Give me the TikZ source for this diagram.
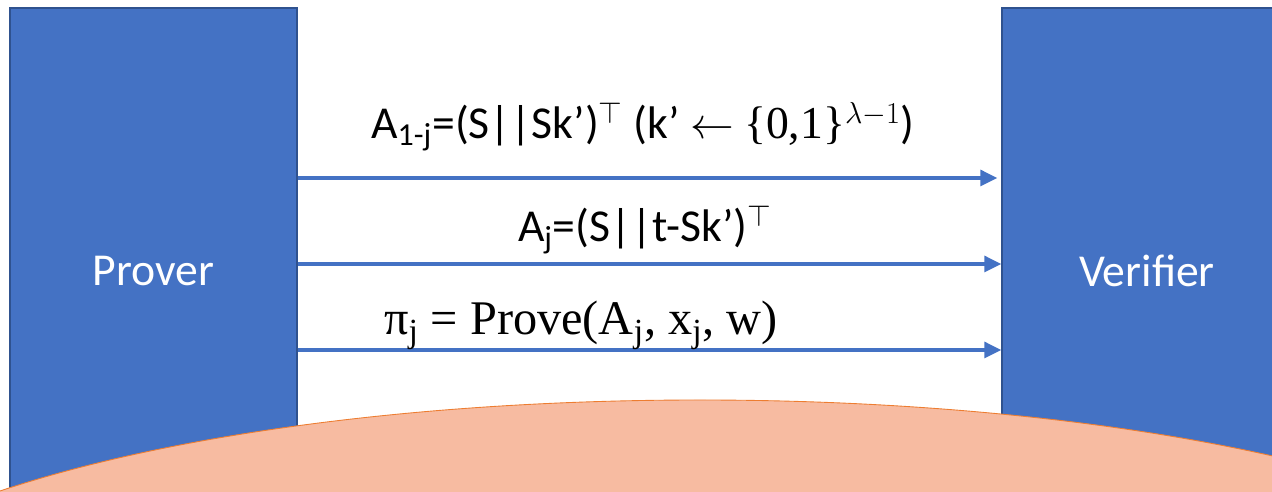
\documentclass[tikz,border=0pt]{standalone}
\usepackage[no-math]{fontspec}
\setmainfont{Carlito}
\newfontfamily\mathlike{Liberation Serif}
\usetikzlibrary{arrows.meta}
\definecolor{partyblue}{HTML}{4472C4}
\definecolor{partyedge}{HTML}{2F528F}
\definecolor{moundfill}{HTML}{F7BBA1}
\definecolor{moundedge}{HTML}{ED7D31}
\begin{document}
\begin{tikzpicture}[x=0.02cm,y=-0.02cm,
    party/.style={draw=partyedge,fill=partyblue,line width=0.8pt,
      minimum height=10.52cm,inner sep=0pt,text=white,
      font=\fontsize{26}{31}\selectfont},
    msg/.style={draw=partyblue,line width=1.8pt,
      -{Triangle[length=0.34cm,width=0.32cm]}},
    lbl/.style={font=\fontsize{26}{31}\selectfont,inner sep=0pt,anchor=base}]
    \useasboundingbox (0,0) rectangle (1272,492);
    \clip (0,0) rectangle (1272,492);

    % the two parties
    \node[party,minimum width=5.74cm] (prover) at (153.5,271) {Prover};
    \node[party,minimum width=5.8cm] (verifier) at (1147,271) {Verifier};

    % hill at the bottom
    \draw[fill=moundfill,draw=moundedge,line width=0.5pt] (700,645)
    ellipse [x radius=900,y radius=245];

    % messages (prover to verifier)
    \coordinate (m1) at (0,178); \coordinate (m2) at (0,264);
    \coordinate (m3) at (0,350);
    \draw[msg,shorten >=0.08cm] (prover.east |- m1) -- (verifier.west |- m1);
    \draw[msg] (prover.east |- m2) -- (verifier.west |- m2);
    \draw[msg] (prover.east |- m3) -- (verifier.west |- m3);

    \node[lbl] (share) at (643,139) {A\textsubscript{1-j}=(S||Sk’)$^{\top}$
    (k’ $\leftarrow$ {\mathlike\{0,1\}}$^{\lambda-1}$)};
    \node[lbl] (other) at (645,242) {A\textsubscript{j}=(S||t-Sk’)$^{\top}$};
    \node[lbl,font=\mathlike\fontsize{27.5}{33}\selectfont] (proof) at (581,335)
    {π\textsubscript{j} = Prove(A\textsubscript{j}, x\textsubscript{j}, w)};
\end{tikzpicture}
\end{document}
